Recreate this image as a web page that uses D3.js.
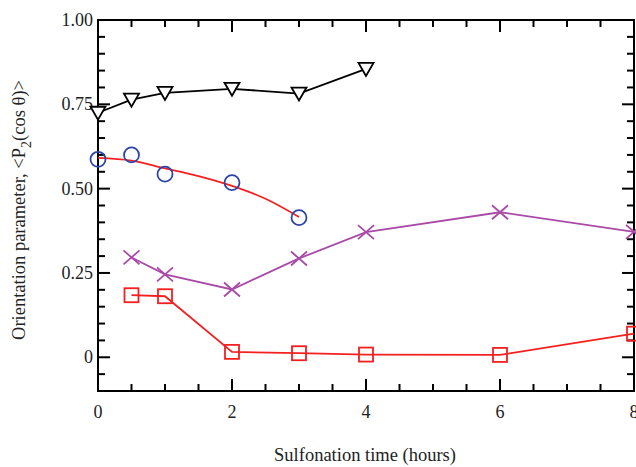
<!DOCTYPE html>
<html>
<head>
<meta charset="utf-8">
<script src="https://cdn.jsdelivr.net/npm/d3@7"></script>
<style>
  body { margin: 0; background: #fff; }
  text { font-family: "Liberation Serif", "DejaVu Serif", serif; }
</style>
</head>
<body>
<div id="chart"></div>
<script>
// Sulfonation time (hours) vs orientation parameter <P2(cos θ)>
const triHours = [0, 0.5, 1, 2, 3, 4];
const triValues = [0.725, 0.764, 0.784, 0.796, 0.782, 0.855];

const circHours = [0, 0.5, 1, 2, 3];
const circValues = [0.587, 0.600, 0.543, 0.518, 0.414];

// fitted curve through the circles
const fitHours = [0, 0.5, 1, 1.5, 2, 2.5, 3];
const fitValues = [0.591, 0.583, 0.560, 0.537, 0.508, 0.470, 0.416];

const crossHours = [0.5, 1, 2, 3, 4, 6, 8];
const crossValues = [0.296, 0.246, 0.201, 0.293, 0.371, 0.430, 0.372];

const sqHours = [0.5, 1, 2, 3, 4, 6, 8];
const sqValues = [0.184, 0.181, 0.016, 0.012, 0.008, 0.007, 0.070];

const yTickValues = [0, 0.25, 0.5, 0.75, 1.0];
const yTickLabels = ["0", "0.25", "0.50", "0.75", "1.00"];
const xTickValues = [0, 2, 4, 6, 8];

const width = 636, height = 467;
const margin = { top: 20, right: 2, bottom: 76, left: 98 };

const svg = d3.select("#chart").append("svg")
  .attr("width", width)
  .attr("height", height);

const xScale = d3.scaleLinear().domain([0, 8]).range([margin.left, width - margin.right]);
const yScale = d3.scaleLinear().domain([-0.1, 1.0]).range([height - margin.bottom, margin.top]);

const toPts = (xs, ys) => xs.map((x, i) => [x, ys[i]]);

// ticks: minor + major, pointing inward on all four sides
const minorY = d3.range(-0.05, 1.0001, 0.05).filter(v => !yTickValues.some(t => Math.abs(t - v) < 1e-6));
const minorX = d3.range(0.5, 8, 0.5).filter(v => !xTickValues.some(t => Math.abs(t - v) < 1e-6));

const axisG = svg.append("g").attr("stroke", "#000").attr("stroke-width", 2);

function yTicks(vals, len) {
  vals.forEach(v => {
    axisG.append("line").attr("x1", xScale(0)).attr("x2", xScale(0) + len)
      .attr("y1", yScale(v)).attr("y2", yScale(v));
    axisG.append("line").attr("x1", xScale(8)).attr("x2", xScale(8) - len)
      .attr("y1", yScale(v)).attr("y2", yScale(v));
  });
}
function xTicks(vals, len) {
  vals.forEach(v => {
    axisG.append("line").attr("x1", xScale(v)).attr("x2", xScale(v))
      .attr("y1", yScale(-0.1)).attr("y2", yScale(-0.1) - len);
    axisG.append("line").attr("x1", xScale(v)).attr("x2", xScale(v))
      .attr("y1", yScale(1.0)).attr("y2", yScale(1.0) + len);
  });
}
yTicks(minorY, 7);
yTicks(yTickValues, 12);
xTicks(minorX, 7);
xTicks(xTickValues, 12);

// frame
svg.append("rect")
  .attr("x", xScale(0)).attr("y", yScale(1.0))
  .attr("width", xScale(8) - xScale(0))
  .attr("height", yScale(-0.1) - yScale(1.0))
  .attr("fill", "none").attr("stroke", "#000").attr("stroke-width", 2);

// tick labels
svg.append("g").selectAll("text").data(yTickValues).join("text")
  .attr("x", xScale(0) - 5)
  .attr("y", d => yScale(d) + 6)
  .attr("text-anchor", "end")
  .attr("font-size", 18)
  .attr("fill", "#222")
  .text((d, i) => yTickLabels[i]);

svg.append("g").selectAll("text").data(xTickValues).join("text")
  .attr("x", d => xScale(d))
  .attr("y", yScale(-0.1) + 27)
  .attr("text-anchor", "middle")
  .attr("font-size", 18)
  .attr("fill", "#222")
  .text(d => d);

// axis titles
svg.append("text")
  .attr("x", 365)
  .attr("y", 461)
  .attr("text-anchor", "middle")
  .attr("font-size", 18.5)
  .attr("fill", "#222")
  .text("Sulfonation time (hours)");

const yTitle = svg.append("text")
  .attr("transform", "translate(25,210) rotate(-90)")
  .attr("text-anchor", "middle")
  .attr("font-size", 18.5)
  .attr("fill", "#222");
yTitle.append("tspan").text("Orientation parameter,  <P");
yTitle.append("tspan").attr("dy", 6).attr("font-size", 14).text("2");
yTitle.append("tspan").attr("dy", -6).text("(cos θ)>");

// lines
const line = d3.line().x(d => xScale(d[0])).y(d => yScale(d[1]));
const plot = svg.append("g");

plot.append("path").datum(toPts(triHours, triValues))
  .attr("d", line).attr("fill", "none").attr("stroke", "#000").attr("stroke-width", 1.8);
plot.append("path").datum(toPts(fitHours, fitValues))
  .attr("d", line.curve(d3.curveMonotoneX)).attr("fill", "none").attr("stroke", "#f42020").attr("stroke-width", 1.8);
line.curve(d3.curveLinear);
plot.append("path").datum(toPts(crossHours, crossValues))
  .attr("d", line).attr("fill", "none").attr("stroke", "#a94aa8").attr("stroke-width", 1.8);
plot.append("path").datum(toPts(sqHours, sqValues))
  .attr("d", line).attr("fill", "none").attr("stroke", "#f42020").attr("stroke-width", 1.8);

// markers
const triPath = "M-7.5,-6 L7.5,-6 L0,7 Z";
plot.selectAll(".tri").data(toPts(triHours, triValues)).join("path")
  .attr("class", "tri")
  .attr("transform", d => `translate(${xScale(d[0])},${yScale(d[1])})`)
  .attr("d", triPath).attr("fill", "#fff").attr("stroke", "#000").attr("stroke-width", 1.8);

plot.selectAll(".circ").data(toPts(circHours, circValues)).join("circle")
  .attr("class", "circ")
  .attr("cx", d => xScale(d[0])).attr("cy", d => yScale(d[1]))
  .attr("r", 7.5).attr("fill", "none").attr("stroke", "#2b45a8").attr("stroke-width", 1.8);

plot.selectAll(".cross").data(toPts(crossHours, crossValues)).join("path")
  .attr("class", "cross")
  .attr("transform", d => `translate(${xScale(d[0])},${yScale(d[1])})`)
  .attr("d", "M-8,-7 L8,7 M-8,7 L8,-7")
  .attr("fill", "none").attr("stroke", "#a94aa8").attr("stroke-width", 1.8);

plot.selectAll(".sq").data(toPts(sqHours, sqValues)).join("rect")
  .attr("class", "sq")
  .attr("x", d => xScale(d[0]) - 7).attr("y", d => yScale(d[1]) - 7)
  .attr("width", 14).attr("height", 14)
  .attr("fill", "none").attr("stroke", "#f42020").attr("stroke-width", 1.8);
</script>
</body>
</html>
